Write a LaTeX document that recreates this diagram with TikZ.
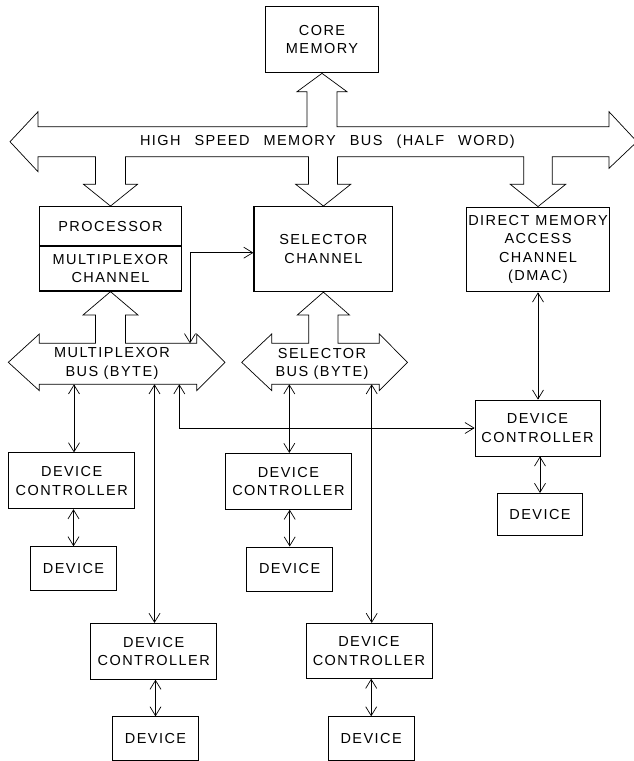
\documentclass[tikz,border=0pt]{standalone}
\usepackage{fontspec}
\setmainfont{Liberation Sans}[LetterSpace=10]
\usetikzlibrary{arrows.meta}
\newcommand\lbl{\fontsize{14.5}{18.5}\selectfont}
\tikzset{
  mainbox/.style={draw, line width=1.3pt, align=center, inner sep=0pt, font=\lbl},
  ctrlbox/.style={draw, line width=0.8pt, minimum width=126pt, minimum height=56pt, align=center, inner sep=0pt, font=\lbl},
  devbox/.style={draw, line width=0.8pt, minimum width=86pt, minimum height=44pt, inner sep=0pt, font=\lbl},
  bus/.style={draw, line width=0.7pt, line join=miter},
  buslabel/.style={align=center, inner sep=0pt, font=\lbl},
  bi/.style={line width=0.7pt, {Straight Barb[length=9pt,width=11pt]}-{Straight Barb[length=9pt,width=11pt]}}
}
\begin{document}
\begin{tikzpicture}[x=1pt,y=-1pt]
\useasboundingbox (0,0) rectangle (634,761);

% main boxes
\node[mainbox, minimum width=113pt, minimum height=66pt] (core) at (322,39.7) {CORE\\MEMORY};
\node[mainbox, minimum width=142.4pt, minimum height=39.3pt] (proc) at (110.5,226.35) {PROCESSOR};
\node[mainbox, minimum width=142.4pt, minimum height=45pt] (mux) at (110.5,268.5) {MULTIPLEXOR\\CHANNEL};
\node[mainbox, minimum width=138.7pt, minimum height=84.8pt] (sel) at (323.4,249.1) {SELECTOR\\CHANNEL};
\node[mainbox, minimum width=142.6pt, minimum height=84.5pt] (dmac) at (538,249.5) {\spaceskip=6pt DIRECT MEMORY\\ACCESS\\CHANNEL\\(DMAC)};

% device controllers and devices
\node[ctrlbox] (dc1) at (71.7,480.8) {DEVICE\\CONTROLLER};
\node[devbox] (dev1) at (73.5,568.7) {DEVICE};
\node[ctrlbox] (dc2) at (288.4,481.3) {DEVICE\\CONTROLLER};
\node[devbox] (dev2) at (289.7,568.9) {DEVICE};
\node[ctrlbox] (dc3) at (153.7,651.3) {DEVICE\\CONTROLLER};
\node[devbox, minimum height=43.3pt] (dev3) at (155.5,738.4) {DEVICE};
\node[ctrlbox, minimum height=55pt] (dc4) at (368.9,650.8) {DEVICE\\CONTROLLER};
\node[devbox, minimum height=43.3pt] (dev4) at (371.2,738.4) {DEVICE};
\node[ctrlbox, minimum width=125pt] (dcd) at (537.5,428) {DEVICE\\CONTROLLER};
\node[devbox, minimum width=84.6pt, minimum height=41.7pt] (devd) at (540,514.2) {DEVICE};

% high speed memory bus
\draw[bus] (10,141.7) -- (38,111.7) -- (38,126.7) -- (307,126.7) -- (307,91.7) -- (297,91.7)
  -- (core.south) -- (347,91.7) -- (337,91.7) -- (337,126.7) -- (609,126.7) -- (609,111.7)
  -- (637,141.7) -- (609,168.3) -- (609,156.7)
  -- (552.3,156.7) -- (552.3,184.3) -- (565.7,184.3) -- (dmac.north) -- (510.3,184.3) -- (523.7,184.3) -- (523.7,156.7)
  -- (337.5,156.7) -- (337.5,184.3) -- (350.7,184.3) -- (sel.north) -- (295.7,184.3) -- (308.5,184.3) -- (308.5,156.7)
  -- (125.5,156.7) -- (125.5,184.3) -- (137.5,184.3) -- (proc.north) -- (83.5,184.3) -- (95.5,184.3) -- (95.5,156.7)
  -- (38,156.7) -- (38,171.7) -- cycle;
\node[buslabel] (hsmlabel) at (327.4,141.7) {\spaceskip=14pt HIGH SPEED MEMORY BUS (HALF WORD)};

% multiplexor bus
\draw[bus] (8.3,362.3) -- (39.3,334) -- (39.3,343.3) -- (95.5,343.3) -- (95.5,315) -- (83,315)
  -- (mux.south) -- (138,315) -- (125.5,315) -- (125.5,343.3) -- (196.7,343.3) -- (196.7,334)
  -- (225,362.3) -- (196.7,390.6) -- (196.7,384.3) -- (39.3,384.3) -- (39.3,390.6) -- cycle;
\node[buslabel] (muxlabel) at (112,363.5) {MULTIPLEXOR\\BUS (BYTE)};

% selector bus
\draw[bus] (241.7,362.3) -- (271.7,334) -- (271.7,343.3) -- (308.8,343.3) -- (308.8,315) -- (297.3,315)
  -- (sel.south) -- (349.5,315) -- (338,315) -- (338,343.3) -- (379.3,343.3) -- (379.3,334)
  -- (407.5,362.3) -- (379.3,390.6) -- (379.3,384.3) -- (271.7,384.3) -- (271.7,390.6) -- cycle;
\node[buslabel] (sellabel) at (322,364) {SELECTOR\\BUS (BYTE)};

% bus attachment points
\coordinate (mA) at (190,343.3);
\coordinate (mB) at (74,384.3);
\coordinate (mC) at (154.5,384.3);
\coordinate (mD) at (179.3,384.3);
\coordinate (sE) at (289.3,384.3);
\coordinate (sF) at (371.7,384.3);

% connectors
\draw[bi] (mA) |- ([yshift=-3.6pt]sel.west);
\draw[bi] (mB) -- (mB |- dc1.north);
\draw[bi] (mC) -- (mC |- dc3.north);
\draw[bi] (mD) |- (dcd.west);
\draw[bi] (sE) -- (sE |- dc2.north);
\draw[bi] (sF) -- (sF |- dc4.north);
\draw[bi] (dmac.south) -- (dmac.south |- dcd.north);

\draw[bi] (dev1.north |- dc1.south) -- (dev1.north);
\draw[bi] (dev2.north |- dc2.south) -- (dev2.north);
\draw[bi] (dev3.north |- dc3.south) -- (dev3.north);
\draw[bi] (dev4.north |- dc4.south) -- (dev4.north);
\draw[bi] (devd.north |- dcd.south) -- (devd.north);
\end{tikzpicture}
\end{document}
